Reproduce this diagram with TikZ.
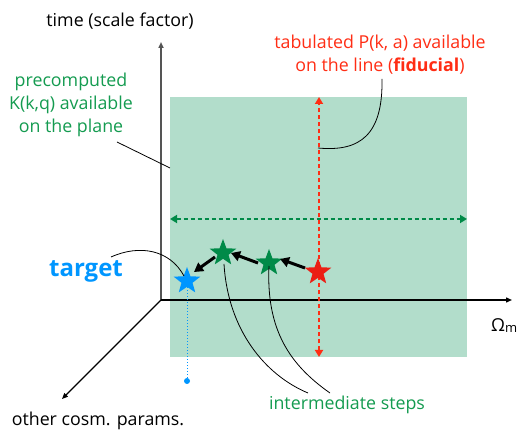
\documentclass[tikz,border=0pt]{standalone}
\usepackage{fontspec}
\setmainfont{Open Sans}
\usetikzlibrary{shapes.geometric,arrows.meta}
\definecolor{plane}{RGB}{178,221,203}
\definecolor{tgreen}{RGB}{20,155,80}
\definecolor{sgreen}{RGB}{0,138,72}
\definecolor{tred}{RGB}{255,45,20}
\definecolor{sred}{RGB}{235,30,20}
\definecolor{tblue}{RGB}{0,150,255}
\definecolor{axisgray}{RGB}{85,85,85}
\tikzset{
  lbl/.style={inner sep=0pt, align=center, font=\fontsize{17.8}{23}\selectfont},
  starnode/.style={star, star points=5, star point ratio=2.4, minimum size=28pt, inner sep=0pt, draw=none},
  stepar/.style={-{Triangle[length=9pt,width=10pt]}, line width=3pt},
  callout/.style={line width=0.8pt},
}
\begin{document}
\begin{tikzpicture}[x=1pt,y=-1pt]
\useasboundingbox (0,0) rectangle (520,430);
% plane
\fill[plane] (170,97) rectangle (467,357);
% axes
\coordinate (O) at (161,300);
\coordinate (T) at (161,42);
\coordinate (X) at (512,300);
\coordinate (D) at (62,399);
\draw[axisgray, line width=2pt, -{Triangle[length=6pt,width=5pt]}] (O) -- (T);
\draw[black, line width=1.4pt, -{Triangle[length=6pt,width=5pt]}] (O) -- (X);
\draw[black, line width=1.2pt, -{Triangle[length=6pt,width=5pt]}] (O) -- (D);
% axis labels
\node[lbl] (tlab) at (120,21) {time (scale factor)};
\node[lbl] (olab) at (98,421) {other cosm. params.};
\node[lbl, anchor=west] (om) at (491,326) {Ω\raisebox{-1pt}{\fontsize{13}{14}\selectfont m}};
% fiducial line and plane line
\coordinate (rtop) at (319,97);
\coordinate (rbot) at (319,357);
\draw[tred, line width=2pt, dash pattern=on 4pt off 3pt, {Triangle[length=7pt,width=8pt]}-{Triangle[length=7pt,width=8pt]}] (rbot) -- (rtop);
\coordinate (gl) at (170,219);
\coordinate (gr) at (467,219);
\draw[sgreen, line width=2pt, dash pattern=on 4pt off 3pt, {Triangle[length=7pt,width=8pt]}-{Triangle[length=7pt,width=8pt]}] (gl) -- (gr);
% texts
\node[lbl, text=tgreen] (pre) at (71,105) {precomputed\\K(k,q) available\\on the plane};
\node[lbl, text=tred] (tab) at (380,55) {tabulated P(k, a) available\\on the line (\textbf{fiducial})};
\node[lbl, text=tblue, font=\fontsize{24}{26}\selectfont\bfseries] (tgt) at (86,271) {target};
\node[lbl, text=tgreen] (inter) at (347,405) {intermediate steps};
% stars
\node[starnode, fill=sred] (sr) at (318,272) {};
\node[starnode, fill=sgreen] (g2) at (269,263) {};
\node[starnode, fill=sgreen] (g1) at (223,253) {};
\node[starnode, fill=tblue] (sb) at (187,281) {};
% step arrows
\draw[stepar] (305,268) -- (280,259);
\draw[stepar] (258,263) -- (231,253);
\draw[stepar] (215,257) -- (194,272);
% blue dotted
\coordinate (bdot) at (187,381);
\draw[tblue, line width=1pt, dotted] (sb) -- (bdot);
\fill[tblue] (bdot) circle (3pt);
% callouts
\coordinate (plpt) at (170,168);
\draw[callout] (117,142) -- (plpt);
\coordinate (redpt) at (318,148);
\draw[callout] (382,79) .. controls (383,135) and (360,152) .. (redpt);
\draw[callout] (111,257) .. controls (140,244) and (170,250) .. (184,276);
\draw[callout] (224,264) .. controls (228,330) and (265,375) .. (308,393);
\draw[callout] (269,266) .. controls (266,330) and (290,365) .. (330,393);
\end{tikzpicture}
\end{document}
